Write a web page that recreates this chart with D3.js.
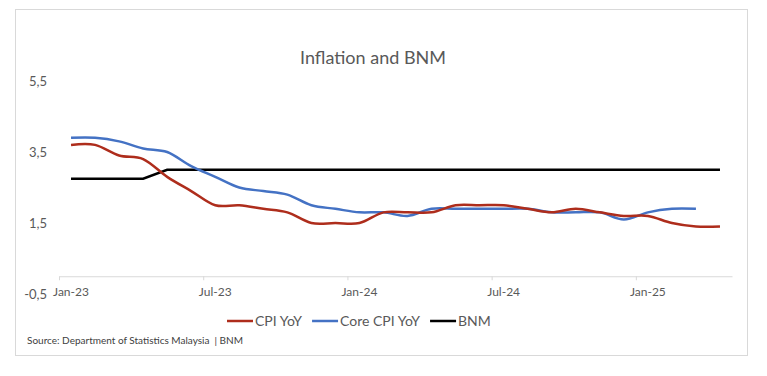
<!DOCTYPE html>
<html lang="en">
<head>
<meta charset="UTF-8">
<title>Inflation and BNM</title>
<script src="https://d3js.org/d3.v7.min.js"></script>
<style>
  body { margin: 0; background: #fff; }
  text { font-family: Lato, "Open Sans", sans-serif; fill: #595959; }
</style>
</head>
<body>
<div class="canvas"></div>
<script>
  // monthly data, Jan-23 .. Apr-25
  const months = ['Jan-23','Feb-23','Mar-23','Apr-23','May-23','Jun-23','Jul-23','Aug-23','Sep-23','Oct-23','Nov-23','Dec-23',
                  'Jan-24','Feb-24','Mar-24','Apr-24','May-24','Jun-24','Jul-24','Aug-24','Sep-24','Oct-24','Nov-24','Dec-24',
                  'Jan-25','Feb-25','Mar-25','Apr-25'];
  const cpi  = [3.7, 3.7, 3.4, 3.3, 2.8, 2.4, 2.0, 2.0, 1.9, 1.8, 1.5, 1.5,
                1.5, 1.8, 1.8, 1.8, 2.0, 2.0, 2.0, 1.9, 1.8, 1.9, 1.8, 1.7,
                1.7, 1.5, 1.4, 1.4];
  const core = [3.9, 3.9, 3.8, 3.6, 3.5, 3.1, 2.8, 2.5, 2.4, 2.3, 2.0, 1.9,
                1.8, 1.8, 1.7, 1.9, 1.9, 1.9, 1.9, 1.9, 1.8, 1.8, 1.8, 1.6,
                1.8, 1.9, 1.9];
  const bnm  = [2.75, 2.75, 2.75, 2.75, 3.0, 3.0, 3.0, 3.0, 3.0, 3.0, 3.0, 3.0,
                3.0, 3.0, 3.0, 3.0, 3.0, 3.0, 3.0, 3.0, 3.0, 3.0, 3.0, 3.0,
                3.0, 3.0, 3.0, 3.0];
  const yTicks = [-0.5, 1.5, 3.5, 5.5];
  const xTicks = [0, 6, 12, 18, 24];
  const seriesNames = ['CPI YoY', 'Core CPI YoY', 'BNM'];
  const colors = ['#AE2D1C', '#4472C4', '#000000'];

  const width = 767, height = 376;

  const svg = d3.select('.canvas')
    .append('svg')
    .attr('width', width)
    .attr('height', height);

  // chart frame
  svg.append('rect')
    .attr('x', 15.5).attr('y', 9.5)
    .attr('width', 732).attr('height', 346)
    .attr('fill', '#fff')
    .attr('stroke', '#d9d9d9');

  svg.append('text')
    .attr('x', 373).attr('y', 64)
    .attr('text-anchor', 'middle')
    .style('font-size', '18px')
    .text('Inflation and BNM');

  const x = d3.scaleLinear().domain([0, months.length]).range([59, 732]);
  const y = d3.scaleLinear().domain([-0.5, 5.5]).range([294, 81]);

  // y labels, no axis line
  const yAxisG = svg.append('g').attr('transform', 'translate(47,0)')
    .call(d3.axisLeft(y).tickValues(yTicks).tickSize(0).tickPadding(0)
      .tickFormat(d => d3.format('.1f')(d).replace('.', ',').replace('−', '-')));
  yAxisG.select('.domain').remove();
  yAxisG.selectAll('text').style('font-size', '13px').style('font-family', 'Lato, sans-serif').attr('fill', '#595959');

  // x axis at 0, ticks on month boundaries
  const xAxisG = svg.append('g').attr('transform', `translate(0,${y(0)})`)
    .call(d3.axisBottom(x).tickValues(xTicks).tickSize(4).tickSizeOuter(0).tickFormat(''));
  xAxisG.select('.domain').attr('stroke', '#d9d9d9');
  xAxisG.selectAll('.tick line').attr('stroke', '#d9d9d9');

  // labels centred on the month
  svg.append('g').selectAll('text')
    .data(xTicks)
    .enter()
    .append('text')
    .attr('x', d => x(d + 0.5))
    .attr('y', 296)
    .attr('text-anchor', 'middle')
    .style('font-size', '12px')
    .text(d => months[d]);

  const smooth = d3.line()
    .x((d, i) => x(i + 0.5))
    .y(d => y(d))
    .curve(d3.curveCardinal.tension(0));

  const straight = d3.line()
    .x((d, i) => x(i + 0.5))
    .y(d => y(d));

  svg.append('path')
    .attr('fill', 'none').attr('stroke', colors[2]).attr('stroke-width', 2.5)
    .attr('d', straight(bnm));

  svg.append('path')
    .attr('fill', 'none').attr('stroke', colors[1]).attr('stroke-width', 2.5)
    .attr('d', smooth(core));

  svg.append('path')
    .attr('fill', 'none').attr('stroke', colors[0]).attr('stroke-width', 2.5)
    .attr('d', smooth(cpi));

  // legend
  const legend = svg.append('g').attr('transform', 'translate(227,321)');
  let lx = 0;
  seriesNames.forEach((name, i) => {
    legend.append('line')
      .attr('x1', lx).attr('x2', lx + 26)
      .attr('y1', 0).attr('y2', 0)
      .attr('stroke', colors[i]).attr('stroke-width', 2.5);
    const t = legend.append('text')
      .attr('x', lx + 28).attr('y', 5)
      .style('font-size', '14px')
      .text(name);
    lx += 28 + t.node().getComputedTextLength() + 10;
  });

  svg.append('text')
    .attr('x', 27).attr('y', 344)
    .style('font-size', '10px')
    .style('fill', '#404040')
    .style('white-space', 'pre')
    .text('Source: Department of Statistics Malaysia  | BNM');
</script>
</body>
</html>
